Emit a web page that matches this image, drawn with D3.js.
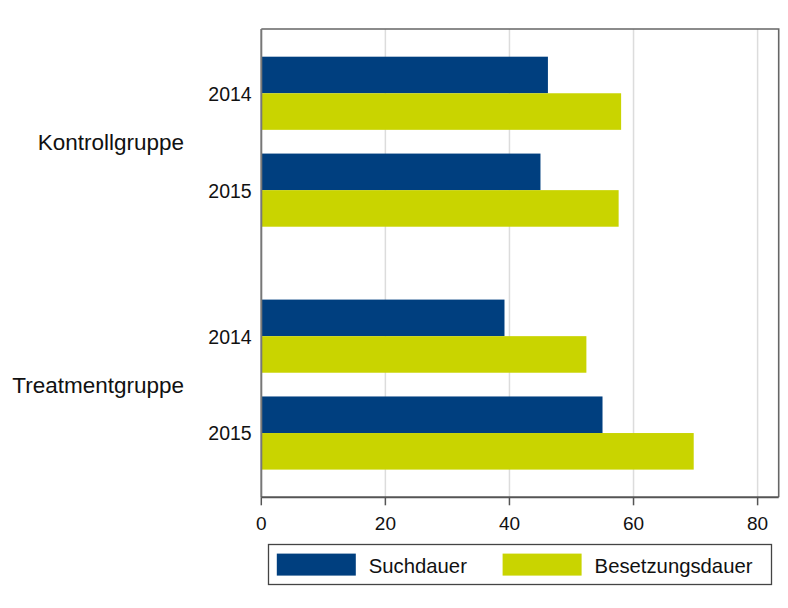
<!DOCTYPE html>
<html>
<head>
<meta charset="utf-8">
<script src="https://cdn.jsdelivr.net/npm/d3@7"></script>
<style>
  html, body { margin: 0; padding: 0; background: #ffffff; }
  svg { display: block; font-family: "Liberation Sans", Arial, sans-serif; }
</style>
</head>
<body>
<svg id="chart" width="788" height="608"></svg>
<script>
// Average durations per group and year
const groups = ["Kontrollgruppe", "Treatmentgruppe"];
const years = ["2014", "2015"];
const seriesNames = ["Suchdauer", "Besetzungsdauer"];
const seriesColors = ["#003F7F", "#C9D400"];
// order: Kontroll 2014, Kontroll 2015, Treatment 2014, Treatment 2015
const suchdauer = [46.2, 45.0, 39.2, 55.0];
const besetzungsdauer = [58.0, 57.6, 52.4, 69.7];
const xTicks = [0, 20, 40, 60, 80];

const svg = d3.select("#chart");
const plotLeft = 261.3, plotRight = 778.7, plotTop = 29, plotBottom = 497.3;

const x = d3.scaleLinear().domain([0, 83.4]).range([plotLeft, plotRight]);
const yGroup = d3.scaleBand().domain(groups).range([plotTop, plotBottom])
  .paddingInner(0.3).paddingOuter(0.114);
const yYear = d3.scaleBand().domain(years).range([0, yGroup.bandwidth()])
  .paddingInner(0.245).paddingOuter(0);
const ySeries = d3.scaleBand().domain(seriesNames).range([0, yYear.bandwidth()]).padding(0);

const rows = [];
groups.forEach((g, gi) => years.forEach((yr, yi) => {
  const i = gi * years.length + yi;
  rows.push({ group: g, year: yr, values: [suchdauer[i], besetzungsdauer[i]] });
}));

// vertical gridlines
svg.append("g").selectAll("line").data(xTicks.filter(t => t > 0)).join("line")
  .attr("x1", d => x(d)).attr("x2", d => x(d))
  .attr("y1", plotTop).attr("y2", plotBottom)
  .attr("stroke", "#dcdcdc").attr("stroke-width", 1.5);

// bars
const rowG = svg.append("g").selectAll("g").data(rows).join("g")
  .attr("transform", d => `translate(0,${yGroup(d.group) + yYear(d.year)})`);
rowG.selectAll("rect").data(d => d.values.map((v, k) => ({ v, k }))).join("rect")
  .attr("x", x(0))
  .attr("y", d => ySeries(seriesNames[d.k]))
  .attr("width", d => x(d.v) - x(0))
  .attr("height", ySeries.bandwidth())
  .attr("fill", d => seriesColors[d.k]);

// plot frame (top and right)
svg.append("path")
  .attr("d", `M${plotLeft},${plotTop}H${plotRight}V${plotBottom}`)
  .attr("fill", "none").attr("stroke", "#666").attr("stroke-width", 1.6);

// axis lines
svg.append("line").attr("x1", plotLeft).attr("x2", plotLeft).attr("y1", plotTop).attr("y2", plotBottom)
  .attr("stroke", "#777").attr("stroke-width", 2);
svg.append("line").attr("x1", plotLeft).attr("x2", plotRight).attr("y1", plotBottom).attr("y2", plotBottom)
  .attr("stroke", "#555").attr("stroke-width", 2);

// x ticks and labels
const xt = svg.append("g").selectAll("g").data(xTicks).join("g")
  .attr("transform", d => `translate(${x(d)},${plotBottom})`);
xt.append("line").attr("y1", 0).attr("y2", 8).attr("stroke", "#555").attr("stroke-width", 1.5);
xt.append("text").attr("y", 32.7).attr("text-anchor", "middle")
  .attr("font-size", 19).attr("fill", "#111").text(d => d);

// year labels
svg.append("g").selectAll("text").data(rows).join("text")
  .attr("x", 251.7)
  .attr("y", d => yGroup(d.group) + yYear(d.year) + yYear.bandwidth() / 2 + 7.4)
  .attr("text-anchor", "end").attr("font-size", 19.5).attr("fill", "#111")
  .text(d => d.year);

// group labels
svg.append("g").selectAll("text").data(groups).join("text")
  .attr("x", 184)
  .attr("y", d => yGroup(d) + yGroup.bandwidth() / 2 + 8)
  .attr("text-anchor", "end").attr("font-size", 22.5).attr("fill", "#111")
  .text(d => d);

// legend
const lg = svg.append("g");
lg.append("rect").attr("x", 268.5).attr("y", 544.5).attr("width", 503).attr("height", 40)
  .attr("fill", "#fff").attr("stroke", "#444").attr("stroke-width", 1.3);
const legendX = [276.8, 502.6];
const items = lg.selectAll("g").data(seriesNames).join("g")
  .attr("transform", (d, i) => `translate(${legendX[i]},553.6)`);
items.append("rect").attr("width", 79).attr("height", 22)
  .attr("fill", (d, i) => seriesColors[i]);
items.append("text").attr("x", 92).attr("y", 19.2)
  .attr("font-size", 20.3).attr("fill", "#111").text(d => d);
</script>
</body>
</html>
